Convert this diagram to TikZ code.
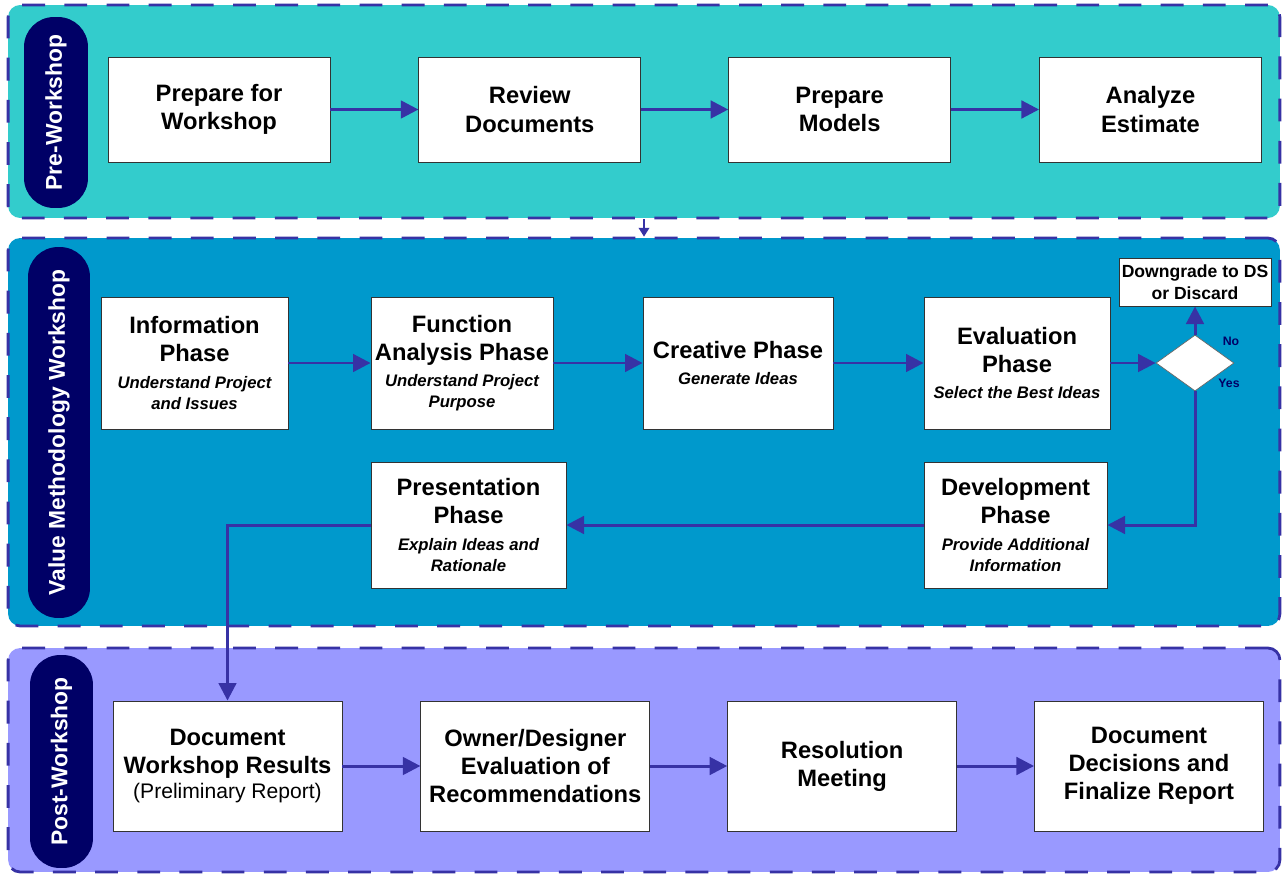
\documentclass[tikz,border=0pt]{standalone}
\usepackage{fontspec}
\setmainfont{Liberation Sans}
\usetikzlibrary{positioning,shapes.geometric,arrows.meta}
\definecolor{preteal}{RGB}{51,204,204}
\definecolor{vmblue}{RGB}{0,153,204}
\definecolor{postlilac}{RGB}{153,153,255}
\definecolor{pillnavy}{RGB}{0,0,102}
\definecolor{flowblue}{RGB}{55,50,165}
\newcommand{\phnote}[1]{{\fontsize{9.5}{11.5}\selectfont\itshape #1}}
\begin{document}
\begin{tikzpicture}[x=0.02cm,y=-0.02cm,
	panel/.style={draw=flowblue, line width=1.6pt, dash pattern=on 13pt off 11pt, rounded corners=0.24cm, minimum width=25.44cm, inner sep=0pt},
	pill/.style={fill=pillnavy, rounded corners=0.6cm, rotate=90, text=white, font=\fontsize{13}{15}\selectfont\bfseries, inner sep=0pt},
	stepbox/.style={draw=black!80, fill=white, line width=0.5pt, align=center, font=\fontsize{13.5}{16}\selectfont\bfseries, inner sep=0pt},
	prebox/.style={stepbox, minimum width=4.44cm, minimum height=2.1cm},
	phasebox/.style={stepbox, minimum height=2.64cm},
	postbox/.style={stepbox, minimum width=4.58cm, minimum height=2.6cm},
	flow/.style={draw=flowblue, line width=1.7pt, -{Triangle[length=10pt,width=10pt]}},
	answer/.style={font=\fontsize{7}{8}\selectfont\bfseries, text=pillnavy, inner sep=0pt}]
					\useasboundingbox (0,0) rectangle (1283,875);
					\node[panel, fill=preteal, minimum height=4.26cm] (pre) at (644,111.5) {};
					\node[panel, fill=vmblue, minimum height=7.76cm] (vmw) at (644,432) {};
					\node[panel, fill=postlilac, minimum height=4.48cm] (post) at (644,760) {};

					\node[pill, minimum width=3.82cm, minimum height=1.28cm] (prelbl) at (56,112.5) {Pre-Workshop};
					\node[pill, minimum width=7.42cm, minimum height=1.24cm] (vmwlbl) at (59,432.5) {Value Methodology Workshop};
					\node[pill, minimum width=4.26cm, minimum height=1.26cm] (postlbl) at (61.5,761.5) {Post-Workshop};

					\node[prebox] (prep) at (219,109.5) {Prepare for\\Workshop};
					\node[prebox] (review)[right=1.76cm of prep] {Review\\Documents};
					\node[prebox] (models)[right=1.74cm of review] {Prepare\\Models};
					\node[prebox] (estimate)[right=1.76cm of models] {Analyze\\Estimate};

					\node[phasebox, minimum width=3.74cm] (info) at (194.5,363) {Information\\Phase\\[-1pt]\phnote{Understand Project}\\[-4pt]\phnote{and Issues}};
					\node[phasebox, minimum width=3.64cm] (func) at (462,363) {Function\\Analysis Phase\\[-1pt]\phnote{Understand Project}\\[-4pt]\phnote{Purpose}};
					\node[phasebox, minimum width=3.8cm] (creative) at (738,363) {Creative Phase\\[-1pt]\phnote{Generate Ideas}};
					\node[phasebox, minimum width=3.72cm] (eval) at (1017,363) {Evaluation\\Phase\\[-1pt]\phnote{Select the Best Ideas}};
					\node[diamond, draw=black!60, fill=white, minimum width=1.56cm, minimum height=1.12cm, inner sep=0pt] (dec) at (1195,363) {};
					\node[stepbox, font=\fontsize{10}{12.5}\selectfont\bfseries, minimum width=3.04cm, minimum height=0.96cm] (dgr) at (1195,282) {Downgrade to DS\\or Discard};
					\node[answer] (no) at (1231,341) {No};
					\node[answer] (yes) at (1229,383) {Yes};
					\node[stepbox, minimum width=3.66cm, minimum height=2.52cm] (dev) at (1015.5,525) {Development\\Phase\\[-1pt]\phnote{Provide Additional}\\[-4pt]\phnote{Information}};
					\node[stepbox, minimum width=3.9cm, minimum height=2.52cm] (pres) at (468.5,525) {Presentation\\Phase\\[-1pt]\phnote{Explain Ideas and}\\[-4pt]\phnote{Rationale}};

					\node[postbox] (dwr) at (227.5,766) {Document\\Workshop Results\\[-2pt]{\fontsize{12}{14}\selectfont\mdseries (Preliminary Report)}};
					\node[postbox] (odr)[right=1.56cm of dwr] {Owner/Designer\\Evaluation of\\Recommendations};
					\node[postbox] (res)[right=1.54cm of odr] {Resolution\\Meeting};
					\node[postbox] (fin)[right=1.54cm of res] {Document\\Decisions and\\Finalize Report};

					\path[every edge/.style={flow}]
					(prep) edge (review)
					(review) edge (models)
					(models) edge (estimate)
					(info) edge (func)
					(func) edge (creative)
					(creative) edge (eval)
					(eval) edge (dec)
					(dec) edge (dgr)
					(dev) edge (pres)
					(dwr) edge (odr)
					(odr) edge (res)
					(res) edge (fin)
					;
					\draw[flow] (dec.south) |- (dev.east);
					\draw[flow] (pres.west) -| (dwr.north);
					\draw[draw=flowblue, line width=1pt, -{Triangle[length=5pt,width=6pt]}] (pre.south) -- (vmw.north);
				\end{tikzpicture}
\end{document}
